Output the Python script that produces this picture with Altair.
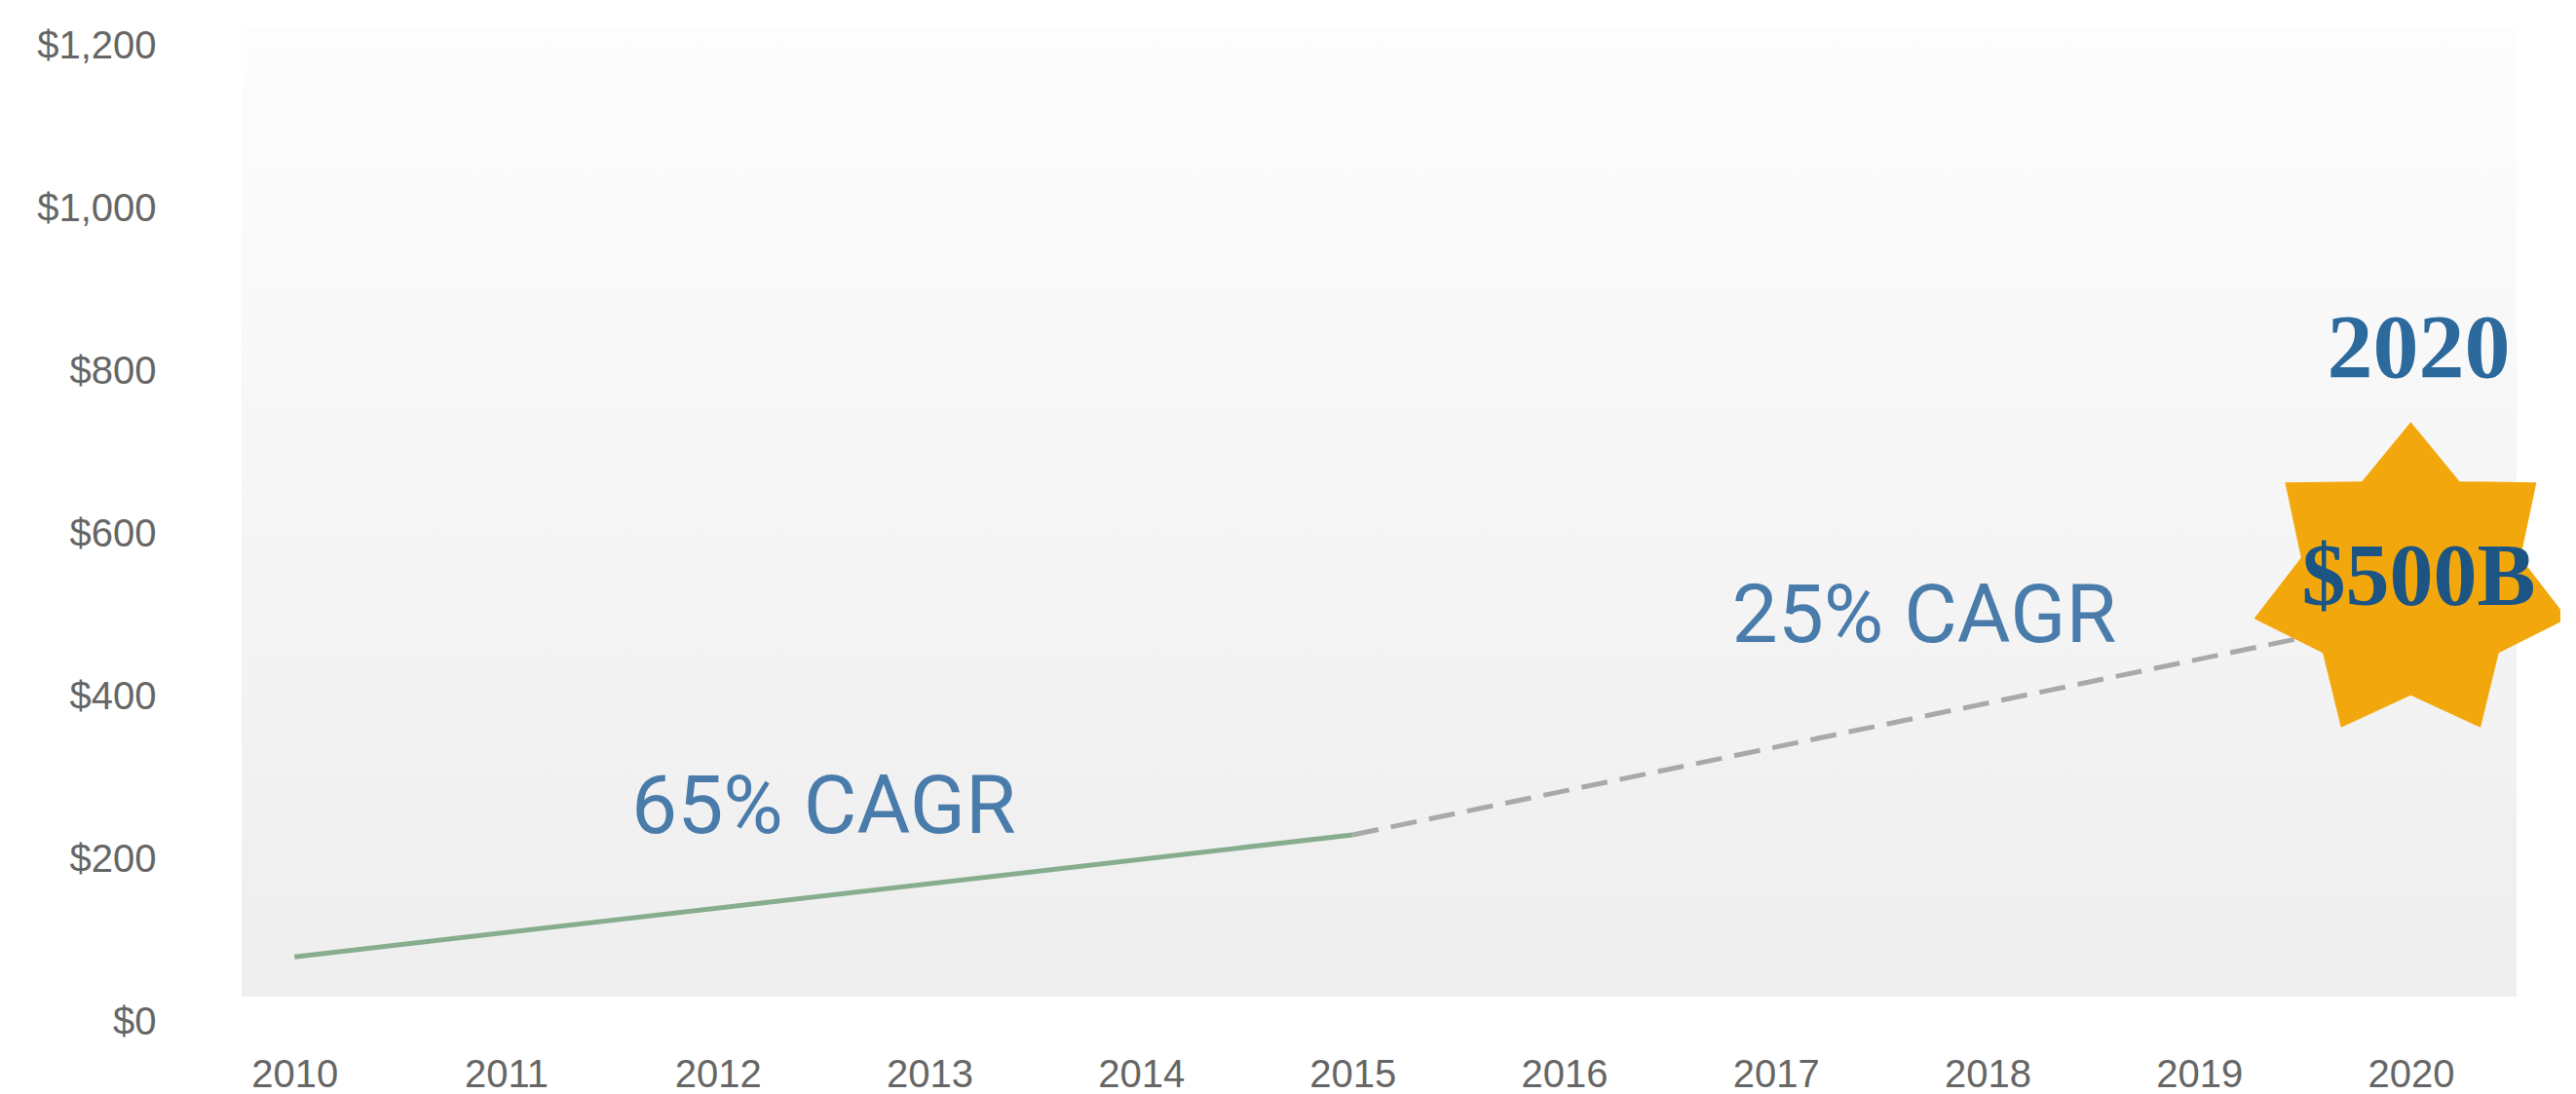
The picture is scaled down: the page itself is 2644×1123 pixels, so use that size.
import math
import altair as alt
import pandas as pd

# ---- data ----
years_actual = [2010, 2015]
values_actual = [80, 230]
years_forecast = [2015, 2020]
values_forecast = [230, 500]
x_ticks = [2010, 2011, 2012, 2013, 2014, 2015, 2016, 2017, 2018, 2019, 2020]
y_ticks = [0, 200, 400, 600, 800, 1000, 1200]
cagr_labels = ["65% CAGR", "25% CAGR"]
cagr_x = [2012.5, 2017.7]
cagr_y = [262, 497]
star_year = [2020]
star_value = [540]
star_label = ["$500B"]
star_title = ["2020"]
panel_x = [2009.75, 2020.5]
panel_y = [31, 1223]

# ---- tables ----
actual = pd.DataFrame({"year": years_actual, "value": values_actual})
forecast = pd.DataFrame({"year": years_forecast, "value": values_forecast})
cagr = pd.DataFrame({"year": cagr_x, "value": cagr_y, "label": cagr_labels})
star = pd.DataFrame({"year": star_year, "value": star_value,
                     "label": star_label, "title": star_title})
panel = pd.DataFrame({"year": [panel_x[0]], "year2": [panel_x[1]],
                      "value": [panel_y[0]], "value2": [panel_y[1]]})

xscale = alt.Scale(domain=[2009.75, 2020.5], nice=False, zero=False)
yscale = alt.Scale(domain=[0, 1223], nice=False, zero=False)

xaxis = alt.Axis(values=x_ticks, format="d", title=None, grid=False,
                 domain=False, ticks=False, tickSize=0, labelPadding=34,
                 labelFont="Liberation Sans", labelFontSize=40,
                 labelColor="#666666")
yaxis = alt.Axis(values=y_ticks, title=None, grid=False, domain=False,
                 ticks=False, tickSize=0, labelPadding=88,
                 labelExpr='"$" + format(datum.value, ",")',
                 labelFont="Liberation Sans", labelFontSize=40,
                 labelColor="#666666")

X = alt.X("year:Q", scale=xscale, axis=xaxis)
Y = alt.Y("value:Q", scale=yscale, axis=yaxis)

gradient = alt.LinearGradient(
    gradient="linear",
    stops=[alt.GradientStop(color="#fdfdfd", offset=0),
           alt.GradientStop(color="#eeeeee", offset=1)],
    x1=0, x2=0, y1=0, y2=1,
)

bg = alt.Chart(panel).mark_rect(color=gradient).encode(
    x=X, x2="year2:Q", y=Y, y2="value2:Q",
)

line_actual = alt.Chart(actual).mark_line(
    color="#86ad8e", strokeWidth=5
).encode(x=X, y=Y)

line_forecast = alt.Chart(forecast).mark_line(
    color="#a9a9a9", strokeWidth=5, strokeDash=[27, 13]
).encode(x=X, y=Y)

cagr_text = alt.Chart(cagr).mark_text(
    font="Roboto", fontSize=84, color="#4a7cab", align="center",
    baseline="middle"
).encode(x=X, y=Y, text="label:N")

# seven-pointed star shape in the unit box
pts = []
for i in range(14):
    ang = -math.pi / 2 + i * math.pi / 7
    r = 1.0 if i % 2 == 0 else 0.70
    pts.append((r * math.cos(ang), r * math.sin(ang)))
star_path = "M" + " L".join(f"{px:.4f},{py:.4f}" for px, py in pts) + " Z"

star_mark = alt.Chart(star).mark_point(
    shape=star_path, filled=True, fill="#f2a80c", strokeWidth=0,
    opacity=1, size=108900
).encode(x=X, y=Y)

star_text = alt.Chart(star).mark_text(
    font="Liberation Serif", fontWeight="bold", fontSize=90,
    color="#1c5583", align="center", baseline="middle", dy=-4, dx=8
).encode(x=X, y=Y, text="label:N")

star_title_text = alt.Chart(star).mark_text(
    font="Liberation Serif", fontWeight="bold", fontSize=94,
    color="#2c699c", align="center", baseline="middle", dy=-239, dx=8
).encode(x=X, y=Y, text="title:N")

chart = alt.layer(
    bg, line_forecast, line_actual, cagr_text, star_mark, star_text,
    star_title_text
).properties(
    width=2335, height=1021,
    autosize=alt.AutoSizeParams(type="none"),
    padding={"left": 240, "top": 20, "right": 45, "bottom": 74},
    background="white",
).configure_view(stroke=None)

chart.save("out.html", embed_options={"renderer": "svg", "actions": False})
